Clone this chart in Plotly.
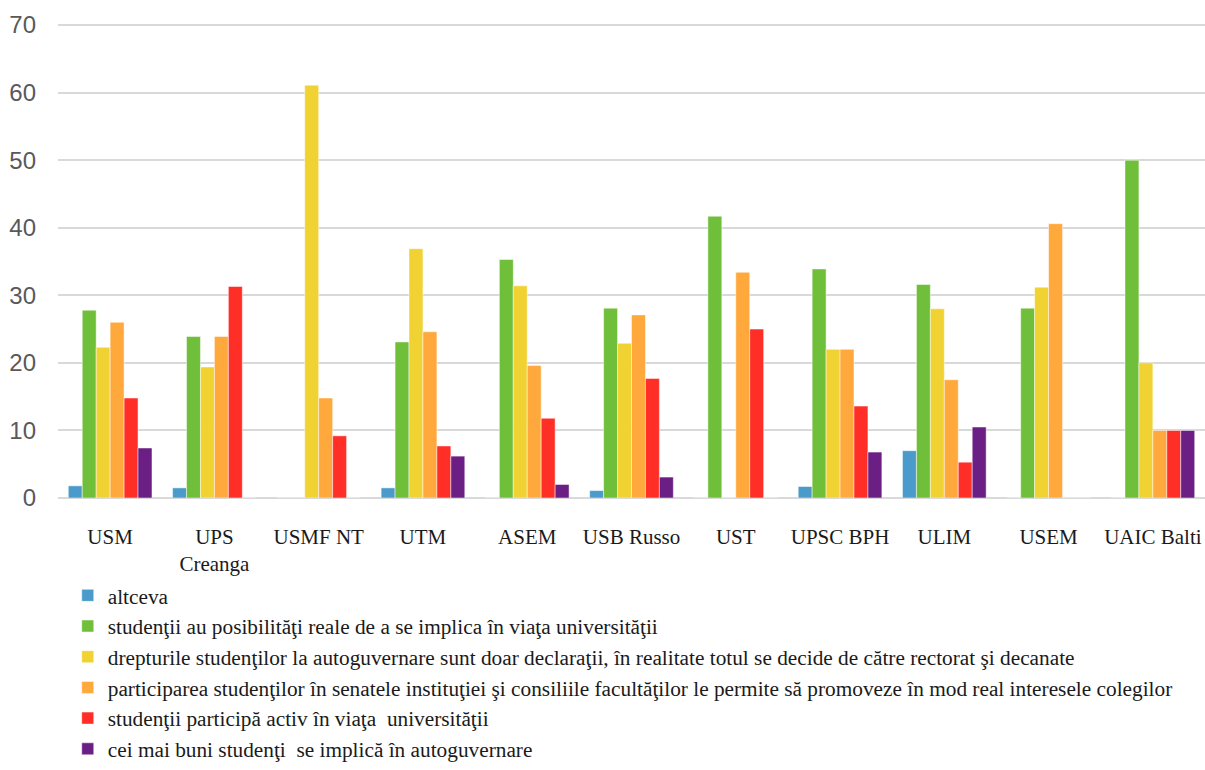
import plotly.graph_objects as go

categories = ["USM", "UPS<br>Creanga", "USMF NT", "UTM", "ASEM", "USB Russo", "UST",
              "UPSC BPH", "ULIM", "USEM", "UAIC Balti"]

series_names = [
    "altceva",
    "studenţii au posibilităţi reale de a se implica în viaţa universităţii",
    "drepturile studenţilor la autoguvernare sunt doar declaraţii, în realitate totul se decide de către rectorat şi decanate",
    "participarea studenţilor în senatele instituţiei şi consiliile facultăţilor le permite să promoveze în mod real interesele colegilor",
    "studenţii participă activ în viaţa  universităţii",
    "cei mai buni studenţi  se implică în autoguvernare",
]

altceva = [1.8, 1.5, 0, 1.5, 0, 1.1, 0, 1.7, 7.0, 0, 0]
posibilitati = [27.8, 23.9, 0, 23.1, 35.3, 28.1, 41.7, 33.9, 31.6, 28.1, 50.0]
declaratii = [22.3, 19.4, 61.1, 36.9, 31.4, 22.9, 0, 22.0, 28.0, 31.2, 20.0]
senate = [26.0, 23.9, 14.8, 24.6, 19.6, 27.1, 33.4, 22.0, 17.5, 40.6, 10.0]
activ = [14.8, 31.3, 9.2, 7.7, 11.8, 17.7, 25.0, 13.6, 5.3, 0, 10.0]
cei_mai_buni = [7.4, 0, 0, 6.2, 2.0, 3.1, 0, 6.8, 10.5, 0, 10.0]

colors = ["#4A9BCB", "#70BF3A", "#F0D232", "#FFA83C", "#FF2E26", "#6B1F84"]
all_values = [altceva, posibilitati, declaratii, senate, activ, cei_mai_buni]

fig = go.Figure()
for i, (name, vals, col) in enumerate(zip(series_names, all_values, colors)):
    fig.add_trace(go.Bar(
        x=categories, y=vals, name=name, legendgroup=f"g{i}",
        marker=dict(color=col, line=dict(color="rgba(255,255,255,0.6)", width=0.8)),
    ))

fig.update_layout(
    width=1205, height=770,
    margin=dict(l=58, r=0, t=20.9, b=264.5),
    paper_bgcolor="white", plot_bgcolor="white",
    barmode="group", bargap=0.1975, bargroupgap=0,
    showlegend=True,
    legend=dict(
        orientation="v", x=0.0085, xanchor="left", y=-0.162, yanchor="top",
        font=dict(family="Liberation Serif", size=21.3, color="#1a1a1a"),
        traceorder="normal", itemwidth=30, tracegroupgap=4,
        bgcolor="rgba(0,0,0,0)",
    ),
    font=dict(family="Liberation Serif"),
)
fig.update_yaxes(
    range=[0, 70.6], tickvals=[0, 10, 20, 30, 40, 50, 60, 70],
    showgrid=True, gridcolor="#d9d9d9", gridwidth=1.5,
    zeroline=True, zerolinecolor="#d9d9d9", zerolinewidth=1.5,
    tickfont=dict(family="Liberation Sans", size=24, color="#595959"),
    ticks="", ticklabelstandoff=21, showline=False,
)
fig.update_xaxes(
    tickfont=dict(family="Liberation Serif", size=21, color="#1a1a1a"),
    ticks="", showline=False, ticklabelstandoff=24,
)

fig.write_html("out.html", config={"displayModeBar": False},
               post_script="document.body.style.margin='0';")
